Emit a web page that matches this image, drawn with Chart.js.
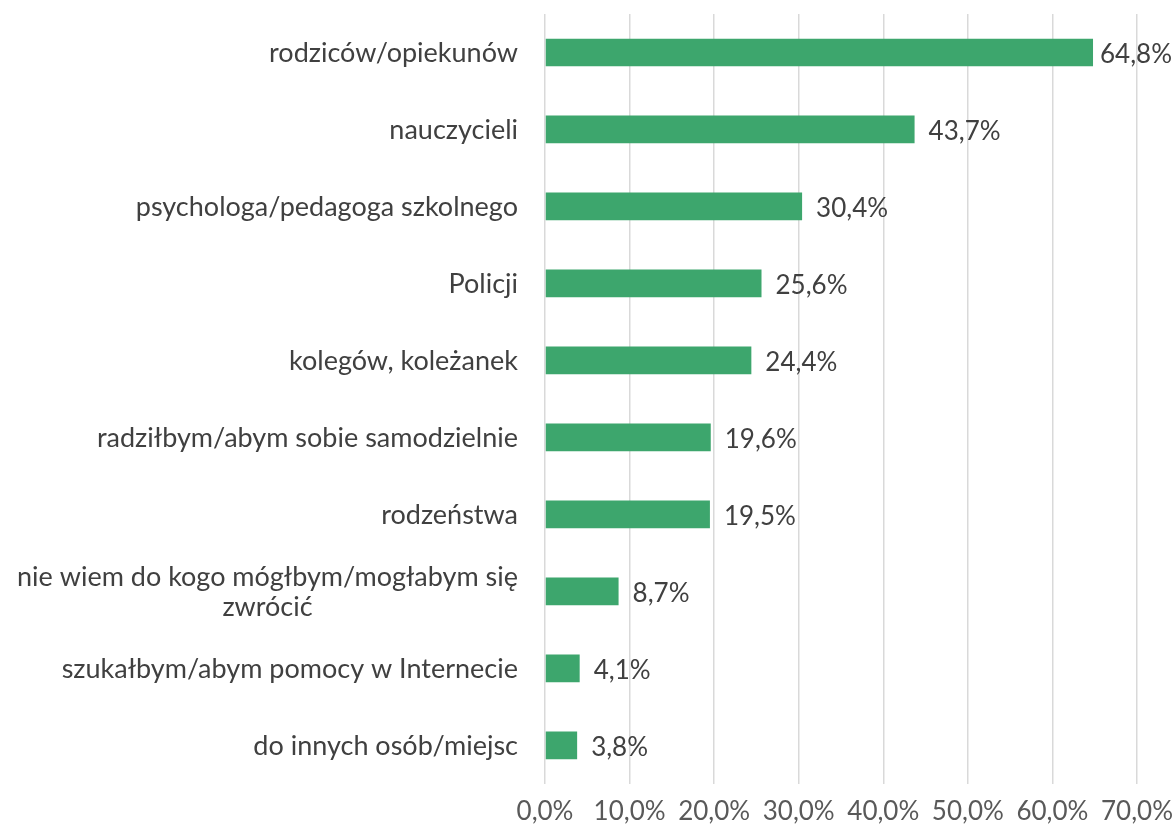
<!DOCTYPE html>
<html>
<head>
<meta charset="utf-8">
<script src="https://cdn.jsdelivr.net/npm/chart.js@4"></script>
<style>
  html, body { margin: 0; padding: 0; background: #fff; }
  #wrap { width: 1176px; height: 832px; }
</style>
</head>
<body>
<div id="wrap"><canvas id="bar-chart" width="1176" height="832"></canvas></div>
<script>
var categories = [
  'rodziców/opiekunów',
  'nauczycieli',
  'psychologa/pedagoga szkolnego',
  'Policji',
  'kolegów, koleżanek',
  'radziłbym/abym sobie samodzielnie',
  'rodzeństwa',
  ['nie wiem do kogo mógłbym/mogłabym się', 'zwrócić'],
  'szukałbym/abym pomocy w Internecie',
  'do innych osób/miejsc'
];
var values = [64.8, 43.7, 30.4, 25.6, 24.4, 19.6, 19.5, 8.7, 4.1, 3.8];
var xTicks = [0, 10, 20, 30, 40, 50, 60, 70];

var FONT = 'Lato, "Open Sans", sans-serif';

function pct(v, digits) {
  return v.toFixed(digits).replace('.', ',') + '%';
}

// category labels drawn next to the axis, multi-line entries centred on each other
var categoryLabels = {
  id: 'categoryLabels',
  afterDraw: function (chart) {
    var ctx = chart.ctx, y = chart.scales.y;
    var right = chart.chartArea.left - 27;
    ctx.save();
    ctx.font = '27px ' + FONT;
    ctx.fillStyle = '#404040';
    ctx.textBaseline = 'middle';
    ctx.textAlign = 'center';
    categories.forEach(function (label, i) {
      var lines = Array.isArray(label) ? label : [label];
      var w = Math.max.apply(null, lines.map(function (l) { return ctx.measureText(l).width; }));
      var cx = right - w / 2;
      var cy = y.getPixelForValue(i);
      var lh = 30;
      var top = cy - (lines.length - 1) * lh / 2 + 1;
      lines.forEach(function (l, j) {
        ctx.fillText(l, cx, top + j * lh);
      });
    });
    ctx.restore();
  }
};

// value labels at the end of each bar, kept inside the canvas
var valueLabels = {
  id: 'valueLabels',
  afterDatasetsDraw: function (chart) {
    var ctx = chart.ctx;
    var meta = chart.getDatasetMeta(0);
    ctx.save();
    ctx.font = '26px ' + FONT;
    ctx.fillStyle = '#404040';
    ctx.textBaseline = 'middle';
    ctx.textAlign = 'left';
    meta.data.forEach(function (bar, i) {
      var txt = pct(values[i], 1);
      var x = Math.min(bar.x + 14, chart.width - ctx.measureText(txt).width - 4);
      ctx.fillText(txt, x, bar.y + 2);
    });
    ctx.restore();
  }
};

new Chart(document.getElementById('bar-chart'), {
  type: 'bar',
  data: {
    labels: categories,
    datasets: [{
      data: values,
      backgroundColor: '#3da66d',
      borderWidth: 0,
      barPercentage: 0.36,
      categoryPercentage: 1
    }]
  },
  options: {
    indexAxis: 'y',
    responsive: false,
    animation: false,
    layout: { padding: { left: 537, top: 14, right: 39, bottom: -7 } },
    plugins: {
      legend: { display: false },
      title: { display: false },
      tooltip: { enabled: false }
    },
    scales: {
      x: {
        min: 0,
        max: 70,
        afterBuildTicks: function (scale) {
          scale.ticks = xTicks.map(function (v) { return { value: v }; });
        },
        afterFit: function (scale) {
          scale.paddingLeft = 0;
          scale.paddingRight = 0;
        },
        grid: { color: '#d9d9d9', lineWidth: 1.5, drawTicks: false },
        border: { display: false },
        ticks: {
          padding: 12,
          color: '#595959',
          font: { family: FONT, size: 26 },
          callback: function (v) { return pct(v, 1); }
        }
      },
      y: {
        grid: { display: false },
        border: { display: false },
        ticks: { display: false }
      }
    }
  },
  plugins: [categoryLabels, valueLabels]
});
</script>
</body>
</html>
